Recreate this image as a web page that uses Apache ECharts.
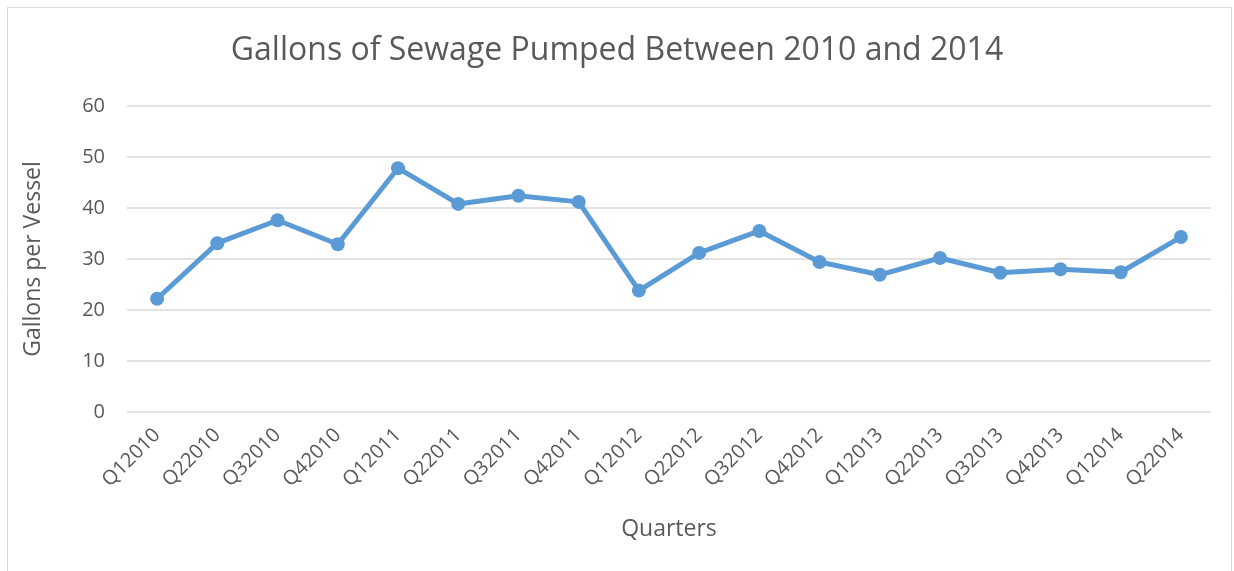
<!DOCTYPE html>
<html><head><meta charset="utf-8">
<script src="https://cdn.jsdelivr.net/npm/echarts@6/dist/echarts.min.js"></script>
<style>html,body{margin:0;padding:0;background:#fff}#c{width:1234px;height:571px}</style>
</head><body><div id="c"></div>
<script>
const categories = ["Q12010","Q22010","Q32010","Q42010","Q12011","Q22011","Q32011","Q42011","Q12012","Q22012","Q32012","Q42012","Q12013","Q22013","Q32013","Q42013","Q12014","Q22014"];
const gallons = [22.2,33.1,37.6,32.9,47.8,40.8,42.4,41.2,23.8,31.2,35.5,29.4,26.9,30.2,27.3,28.0,27.4,34.3];
const titleText = "Gallons of Sewage Pumped Between 2010 and 2014";
const yName = "Gallons per Vessel";
const xName = "Quarters";
const FONT = "Open Sans";
const chart = echarts.init(document.getElementById('c'));
chart.setOption({
  animation:false,
  backgroundColor:'#fff',
  graphic:[{type:'rect',shape:{x:7.5,y:7.5,width:1224,height:570},style:{fill:'none',stroke:'#d9d9d9',lineWidth:1}}],
  title:{text:titleText,left:'center',top:30,textStyle:{fontFamily:FONT,fontSize:32,fontWeight:'normal',color:'#595959'}},
  grid:{left:127,right:23,top:106,bottom:159,containLabel:false},
  xAxis:{type:'category',data:categories,boundaryGap:true,
    name:xName,nameLocation:'middle',nameGap:106,nameTextStyle:{fontFamily:FONT,fontSize:23,color:'#595959'},
    axisLine:{show:false},axisTick:{show:false},
    axisLabel:{rotate:45,interval:0,margin:20,fontFamily:FONT,fontSize:20,color:'#595959'}},
  yAxis:{type:'value',min:0,max:60,interval:10,
    name:yName,nameLocation:'middle',nameGap:82,nameTextStyle:{fontFamily:FONT,fontSize:23,color:'#595959'},
    axisLine:{show:false},axisTick:{show:false},
    axisLabel:{margin:22,fontFamily:FONT,fontSize:20,color:'#595959'},
    splitLine:{lineStyle:{color:'#d9d9d9',width:1.5}}},
  series:[{type:'line',data:gallons,symbol:'circle',symbolSize:14,
    lineStyle:{color:'#5B9BD5',width:5},itemStyle:{color:'#5B9BD5'}}]
});
</script></body></html>
